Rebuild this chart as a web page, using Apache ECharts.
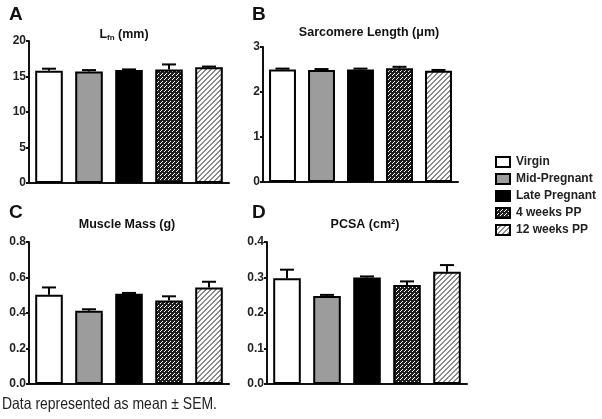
<!DOCTYPE html>
<html><head><meta charset="utf-8">
<script src="https://cdn.jsdelivr.net/npm/echarts@6/dist/echarts.min.js"></script>
<style>html,body{margin:0;padding:0;background:#fff}#c{width:602px;height:419px}</style>
</head><body><div id="c"></div>
<script>
// ---- data ----
const groups = ['Virgin', 'Mid-Pregnant', 'Late Pregnant', '4 weeks PP', '12 weeks PP'];
const lfnMean = [15.8, 15.7, 15.9, 16.0, 16.3];
const lfnSem = [0.3, 0.2, 0.1, 0.7, 0.1];
const sarcMean = [2.50, 2.49, 2.50, 2.53, 2.47];
const sarcSem = [0.02, 0.02, 0.02, 0.03, 0.02];
const massMean = [0.503, 0.413, 0.509, 0.471, 0.544];
const massSem = [0.041, 0.008, 0.004, 0.023, 0.032];
const pcsaMean = [0.298, 0.248, 0.300, 0.279, 0.316];
const pcsaSem = [0.024, 0.003, 0.003, 0.010, 0.019];
const ticksA = {min: 0, max: 20, interval: 5};
const ticksB = {min: 0, max: 3, interval: 1};
const ticksC = {min: 0, max: 0.8, interval: 0.2};
const ticksD = {min: 0, max: 0.4, interval: 0.1};

// ---- patterns ----
function makePattern(size, bg, fg, pixels) {
  const cv = document.createElement('canvas');
  cv.width = size; cv.height = size;
  const ctx = cv.getContext('2d');
  ctx.fillStyle = bg; ctx.fillRect(0, 0, size, size);
  ctx.fillStyle = fg;
  pixels.forEach(p => ctx.fillRect(p[0], p[1], 1, 1));
  return {image: cv, repeat: 'repeat'};
}
const pat4 = makePattern(4, '#1f1f1f', '#ffffff', [[0,3],[1,2],[2,1]]);
const pat12 = makePattern(5, '#ffffff', '#8a8a8a', [[0,4],[1,3],[2,2],[3,1],[4,0],[0,0],[1,4],[2,3],[3,2],[4,1]]);
const fills = ['#ffffff', '#9c9c9c', '#000000', pat4, pat12];

const FONT = '"Liberation Sans", Arial, sans-serif';
const panels = [
  {mean: lfnMean, sem: lfnSem, ticks: ticksA, grid: {left: 29, top: 41, width: 200, height: 142}, fmt: v => String(v)},
  {mean: sarcMean, sem: sarcSem, ticks: ticksB, grid: {left: 263, top: 47, width: 195, height: 135}, fmt: v => String(v)},
  {mean: massMean, sem: massSem, ticks: ticksC, grid: {left: 29, top: 242, width: 200, height: 142}, fmt: v => v.toFixed(1)},
  {mean: pcsaMean, sem: pcsaSem, ticks: ticksD, grid: {left: 267, top: 242, width: 200, height: 142}, fmt: v => v.toFixed(1)}
];

const grid = [], xAxis = [], yAxis = [], series = [];
panels.forEach((p, k) => {
  grid.push(Object.assign({outerBoundsMode: 'none', containLabel: false}, p.grid));
  xAxis.push({type: 'category', gridIndex: k, data: groups,
    axisLine: {lineStyle: {color: '#111', width: 2}}, axisTick: {show: false}, axisLabel: {show: false}});
  yAxis.push({type: 'value', gridIndex: k, min: p.ticks.min, max: p.ticks.max, interval: p.ticks.interval,
    axisLine: {show: true, lineStyle: {color: '#111', width: 2}},
    axisTick: {show: true, length: 3, lineStyle: {color: '#111', width: 2}},
    splitLine: {show: false},
    axisLabel: {margin: 3, color: '#222', fontSize: 12, fontWeight: 'bold', fontFamily: FONT, formatter: p.fmt}});
  groups.forEach((g, gi) => {
    series.push({type: 'bar', name: g, xAxisIndex: k, yAxisIndex: k, barWidth: '69%', barGap: '-100%',
      z: 3,
      itemStyle: {color: fills[gi], borderColor: '#000', borderWidth: 2},
      emphasis: {disabled: true},
      data: p.mean.map((v, i) => i === gi ? v : '-')});
  });
  series.push({type: 'custom', xAxisIndex: k, yAxisIndex: k, z: 2, silent: true,
    data: p.mean.map((v, i) => [i, v, p.sem[i]]),
    encode: {x: 0, y: 1},
    renderItem: function (params, api) {
      const i = api.value(0), m = api.value(1), e = api.value(2);
      const p0 = api.coord([i, m]), p1 = api.coord([i, m + e]);
      const hw = 7;
      return {type: 'group', children: [
        {type: 'line', shape: {x1: p0[0], y1: p0[1], x2: p1[0], y2: p1[1]}, style: {stroke: '#000', lineWidth: 2}},
        {type: 'line', shape: {x1: p1[0] - hw, y1: p1[1], x2: p1[0] + hw, y2: p1[1]}, style: {stroke: '#000', lineWidth: 2}}
      ]};
    }});
});

function txt(x, y, text, size, align, extra) {
  return {type: 'text', x: x, y: y, silent: true, style: Object.assign({text: text, fontSize: size, fontWeight: 'bold',
    fontFamily: FONT, fill: '#111', textAlign: align, textVerticalAlign: 'middle'}, extra || {})};
}

// footer text is set in a condensed face in the original; squeeze Liberation Sans to the same width
const footerText = 'Data represented as mean ± SEM.';
const footerFont = '16.5px "Liberation Sans", Arial, sans-serif';
const mctx = document.createElement('canvas').getContext('2d');
mctx.font = footerFont;
const footerScale = 215 / mctx.measureText(footerText).width;

const option = {
  animation: false,
  backgroundColor: '#fff',
  grid: grid, xAxis: xAxis, yAxis: yAxis, series: series,
  legend: {orient: 'vertical', left: 490, top: 151, itemWidth: 14, itemHeight: 10, itemGap: 5,
    icon: 'rect', selectedMode: false, data: groups,
    textStyle: {fontSize: 12, fontWeight: 'bold', fontFamily: FONT, color: '#222', padding: [0, 0, 0, 1]}},
  graphic: [
    txt(9, 15, 'A', 19, 'left'),
    txt(252, 15, 'B', 19, 'left'),
    txt(9, 213, 'C', 19, 'left'),
    txt(252, 213, 'D', 19, 'left'),
    txt(124, 35, '{a|L}{s|fn}{a| (mm)}', 12.5, 'center', {rich: {
      a: {fontSize: 12.5, fontWeight: 'bold', fontFamily: FONT, fill: '#111', lineHeight: 13, verticalAlign: 'top'},
      s: {fontSize: 8, fontWeight: 'bold', fontFamily: FONT, fill: '#111', lineHeight: 8, verticalAlign: 'bottom'}}}),
    txt(369, 33, 'Sarcomere Length (μm)', 12.5, 'center'),
    txt(127, 225, 'Muscle Mass (g)', 12.5, 'center'),
    txt(365, 225, 'PCSA (cm²)', 12.5, 'center'),
    {type: 'text', x: 2, y: 404.5, scaleX: footerScale, silent: true, style: {text: footerText, font: footerFont,
      fill: '#222', textAlign: 'left', textVerticalAlign: 'middle'}}
  ]
};
const chart = echarts.init(document.getElementById('c'), null, {renderer: 'canvas'});
chart.setOption(option);
</script>
</body></html>
